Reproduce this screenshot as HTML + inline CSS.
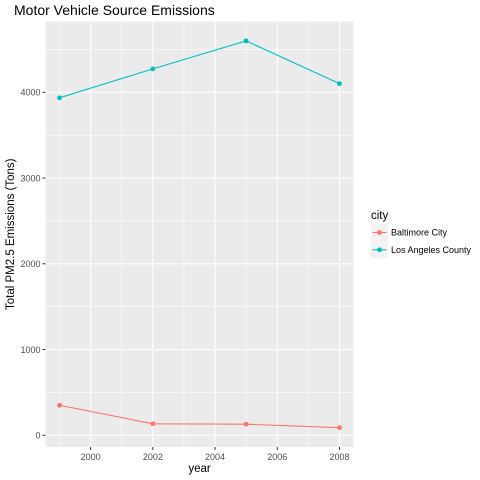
<!DOCTYPE html>
<html><head><meta charset="utf-8"><style>
body{margin:0;background:#fff}
svg{display:block;font-family:"Liberation Sans",sans-serif}
</style></head><body>
<svg width="480" height="480">
<g id="plot"></g>
</svg>
<script>
const years=[1999,2002,2005,2008];
const cities=["Baltimore City","Los Angeles County"];
const colors=["#F8766D","#00BFC4"];
const baltimore=[350,134,129,88];
const losAngeles=[3936,4273,4600,4101];
const xTicks=[2000,2002,2004,2006,2008];
const yTicks=[0,1000,2000,3000,4000];
const NS="http://www.w3.org/2000/svg";
const L=45.5,R=353.5,T=21.5,B=447;
const xMin=1998.55,xMax=2008.45,yMin=-137,yMax=4826;
const sx=v=>L+(v-xMin)/(xMax-xMin)*(R-L);
const sy=v=>B-(v-yMin)/(yMax-yMin)*(B-T);
const g=document.getElementById('plot');
function mk(t,a,p){const e=document.createElementNS(NS,t);for(const k in a)e.setAttribute(k,a[k]);(p||g).appendChild(e);return e;}
const bg=mk('rect',{x:L,y:T,width:R-L,height:B-T,fill:'#EBEBEB'});


// minor grid
for(let i=0;i<xTicks.length;i++){const m=xTicks[i]-1;const ln=mk('line',{x1:sx(m),x2:sx(m),y1:T,y2:B,stroke:'#fff','stroke-width':0.6});

}
for(let i=0;i<yTicks.length;i++){const m=yTicks[i]+500;const ln=mk('line',{x1:L,x2:R,y1:sy(m),y2:sy(m),stroke:'#fff','stroke-width':0.6});

}
xTicks.forEach(v=>{const ln=mk('line',{x1:sx(v),x2:sx(v),y1:T,y2:B,stroke:'#fff','stroke-width':1.1});


mk('line',{x1:sx(v),x2:sx(v),y1:B,y2:B+3,stroke:'#333'});
const t=mk('text',{x:sx(v),y:B+13,'text-anchor':'middle','font-size':9,fill:'#4D4D4D'});t.textContent=v;

});
yTicks.forEach(v=>{const ln=mk('line',{x1:L,x2:R,y1:sy(v),y2:sy(v),stroke:'#fff','stroke-width':1.1});


mk('line',{x1:L-3,x2:L,y1:sy(v),y2:sy(v),stroke:'#333'});
const t=mk('text',{x:L-5,y:sy(v)+3.3,'text-anchor':'end','font-size':9,fill:'#4D4D4D'});t.textContent=v;

});
[baltimore,losAngeles].forEach((s,i)=>{
const pl=mk('polyline',{points:s.map((v,j)=>sx(years[j])+','+sy(v)).join(' '),fill:'none',stroke:colors[i],'stroke-width':1.1});


s.forEach((v,j)=>{const c=mk('circle',{cx:sx(years[j]),cy:sy(v),r:2.4,fill:colors[i]});

});});
let t=mk('text',{x:14,y:15,'font-size':14,fill:'#000'});t.textContent='Motor Vehicle Source Emissions';


t=mk('text',{x:(L+R)/2,y:472,'text-anchor':'middle','font-size':11.5,fill:'#000'});t.textContent='year';


t=mk('text',{x:0,y:0,'text-anchor':'middle','font-size':11.5,fill:'#000',transform:`translate(14,${(T+B)/2}) rotate(-90)`});t.textContent='Total PM2.5 Emissions (Tons)';


t=mk('text',{x:371,y:219,'font-size':11.5,fill:'#000'});t.textContent='city';


cities.forEach((c,i)=>{const y=224+i*17.3;
const k=mk('rect',{x:371,y:y,width:17,height:17,fill:'#F2F2F2'});


mk('line',{x1:372.5,x2:386.5,y1:y+8.5,y2:y+8.5,stroke:colors[i],'stroke-width':1.1});
mk('circle',{cx:379.5,cy:y+8.5,r:2.4,fill:colors[i]});
const tx=mk('text',{x:391,y:y+11.5,'font-size':9,fill:'#000'});tx.textContent=c;

});
</script>
</body></html>
